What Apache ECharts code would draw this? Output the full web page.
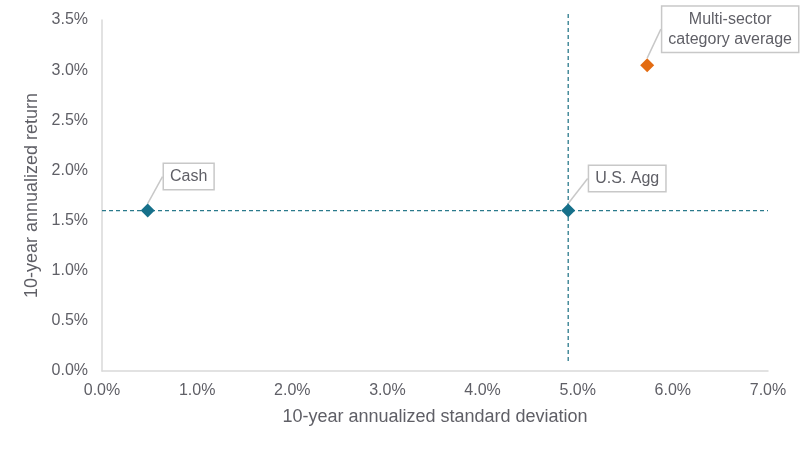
<!DOCTYPE html>
<html><head><meta charset="utf-8">
<script src="https://cdn.jsdelivr.net/npm/echarts@6/dist/echarts.min.js"></script>
<style>html,body{margin:0;padding:0;background:#fff}#c{width:809px;height:450px}</style>
</head><body><div id="c"></div>
<script>
const names = ['Cash', 'U.S. Agg', 'Multi-sector\ncategory average'];
const stdDev = [0.48, 4.9, 5.73];
const returns = [1.6, 1.6, 3.05];
const xTicks = [0, 1, 2, 3, 4, 5, 6, 7];
const yTicks = [0, 0.5, 1, 1.5, 2, 2.5, 3, 3.5];
const refX = 4.9, refY = 1.6;

const colors = ['#16708a', '#16708a', '#e36c12'];
const labelOffsets = [[41, -34], [59, -32], [83, -36]];
const txt = '#5f5f66';
const font = '"Liberation Sans", Arial, sans-serif';

const chart = echarts.init(document.getElementById('c'));
chart.setOption({
  animation: false,
  grid: { left: 102, right: 41, top: 20, bottom: 79 },
  xAxis: {
    type: 'value', min: xTicks[0], max: xTicks[xTicks.length - 1], interval: 1,
    name: '10-year annualized standard deviation', nameLocation: 'middle', nameGap: 37,
    nameTextStyle: { color: txt, fontSize: 18, fontFamily: font },
    axisLine: { lineStyle: { color: '#d9d9d9', width: 1.5 } },
    axisTick: { show: false }, splitLine: { show: false },
    axisLabel: { color: txt, fontSize: 16, fontFamily: font, margin: 12, formatter: v => v.toFixed(1) + '%' }
  },
  yAxis: {
    type: 'value', min: yTicks[0], max: yTicks[yTicks.length - 1], interval: 0.5,
    name: '10-year annualized return', nameLocation: 'middle', nameGap: 57,
    nameTextStyle: { color: txt, fontSize: 18, fontFamily: font },
    axisLine: { show: true, lineStyle: { color: '#d9d9d9', width: 1.5 } },
    axisTick: { show: false }, splitLine: { show: false },
    axisLabel: { color: txt, fontSize: 16, fontFamily: font, margin: 14, formatter: v => v.toFixed(1) + '%' }
  },
  series: [
    {
      type: 'line', clip: false, symbol: 'none', silent: true,
      lineStyle: { color: '#2a7a8c', width: 1.3, type: [4, 3] },
      data: [[refX, 3.56], [refX, 0.07]]
    },
    {
      type: 'line', clip: false, symbol: 'none', silent: true,
      lineStyle: { color: '#2a7a8c', width: 1.3, type: [4, 3] },
      data: [[0, refY], [7, refY]]
    },
    {
      type: 'scatter', symbol: 'diamond', symbolSize: 14, z: 5,
      data: names.map((n, i) => ({
        name: n, value: [stdDev[i], returns[i]],
        itemStyle: { color: colors[i], opacity: 1 }
      })),
      label: {
        show: true, position: 'inside', formatter: p => p.name,
        color: txt, fontSize: 16, fontFamily: font, lineHeight: 20,
        backgroundColor: '#fff', borderColor: '#c8c8c8', borderWidth: 1.5,
        padding: [3, 6, 2, 6]
      },
      labelLine: { show: true, lineStyle: { color: '#c8c8c8', width: 1.5 } },
      labelLayout: p => ({ dx: labelOffsets[p.dataIndex][0], dy: labelOffsets[p.dataIndex][1] })
    }
  ]
});
</script></body></html>
